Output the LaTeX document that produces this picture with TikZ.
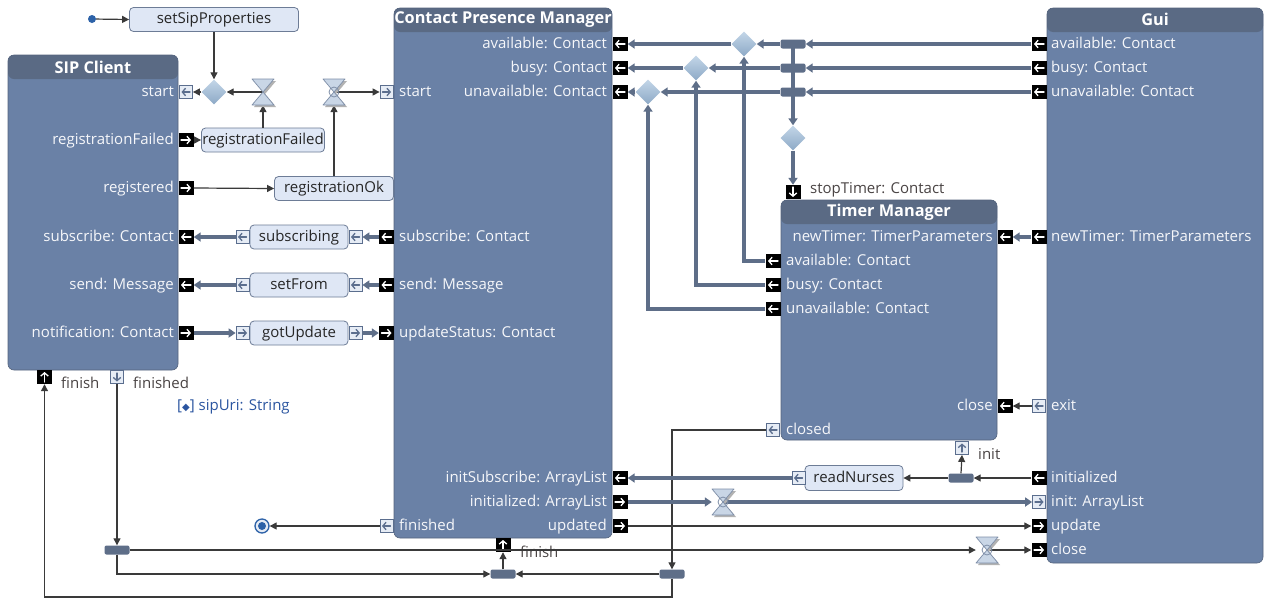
\documentclass[tikz,border=0pt]{standalone}
\usepackage{fontspec}
\setmainfont{Open Sans}
\newfontfamily\symfont{DejaVu Sans}
\usetikzlibrary{arrows.meta,shapes.geometric,calc}

\definecolor{bodyc}{HTML}{6A81A6}
\definecolor{headc}{HTML}{5A6A84}
\definecolor{edgec}{HTML}{55647D}
\definecolor{flowc}{HTML}{5E6E88}
\definecolor{ctlc}{HTML}{3A3A3A}
\definecolor{actfill}{HTML}{DFE7F5}
\definecolor{actedge}{HTML}{6D7C96}
\definecolor{pinfill}{HTML}{E6ECF5}
\definecolor{pinedge}{HTML}{5B6E8E}
\definecolor{diatop}{HTML}{C3D6E8}
\definecolor{diabot}{HTML}{8DA9C6}
\definecolor{glassfill}{HTML}{C9D6E6}
\definecolor{glassedge}{HTML}{7F8FA8}
\definecolor{lblc}{HTML}{4A4444}
\definecolor{attrc}{HTML}{2B55A0}
\definecolor{dotc}{HTML}{2D62A8}

\tikzset{
  comp/.style={draw=edgec, fill=bodyc, rounded corners=6pt, inner sep=0, line width=0.6pt,
    path picture={\fill[headc] (path picture bounding box.north west) rectangle ([yshift=-24pt]path picture bounding box.north east);}},
  ctitle/.style={font=\bfseries\fontsize{16.3}{16.3}\selectfont, text=white, inner sep=0},
  plbl/.style={font=\fontsize{15}{15}\selectfont, text=white!94!bodyc, inner sep=0, text height=11pt, text depth=3pt},
  olbl/.style={font=\fontsize{15}{15}\selectfont, text=lblc, inner sep=0, text height=11pt, text depth=3pt, anchor=west},
  % pin glyph: colour, start offset, end offset
  parr/.style n args={3}{path picture={\draw[line width=1.3pt, draw=#1, line cap=round,
      -{Straight Barb[length=3.2pt,width=7.5pt,line width=1.3pt]}]
      ([shift={(#2)}]path picture bounding box.center) -- ([shift={(#3)}]path picture bounding box.center);}},
  bport/.style={fill=black, minimum width=15pt, minimum height=14pt, inner sep=0},
  hport/.style={fill=pinfill, draw=pinedge, line width=0.8pt, minimum width=13pt, minimum height=13pt, inner sep=0},
  bL/.style={bport, parr={white}{5,0}{-5,0}},
  bR/.style={bport, parr={white}{-5,0}{5,0}},
  bU/.style={bport, parr={white}{0,5}{0,-5}},
  bD/.style={bport, parr={white}{0,-5}{0,5}},
  hL/.style={hport, parr={pinedge}{4,0}{-4.5,0}},
  hR/.style={hport, parr={pinedge}{-4,0}{4.5,0}},
  hU/.style={hport, parr={pinedge}{0,4}{0,-4.5}},
  hD/.style={hport, parr={pinedge}{0,-4}{0,4.5}},
  act/.style={draw=actedge, fill=actfill, rounded corners=4pt, line width=0.8pt, inner sep=0,
    font=\fontsize{15}{15}\selectfont, text=black!85, text height=11pt, text depth=3pt},
  dia/.style={diamond, shape aspect=1, minimum size=25pt, inner sep=0, top color=diatop, bottom color=diabot},
  forkbar/.style={fill=flowc, rounded corners=2pt, minimum width=25pt, minimum height=9pt, inner sep=0},
  glass/.style={minimum width=22pt, minimum height=26pt, inner sep=0},
  glassst/.style={fill=glassfill, draw=glassedge, line width=0.7pt, line join=round},
  ctlflow/.style={draw=ctlc, line width=1.2pt, -{Triangle[width=7pt,length=7pt]}},
  objflow/.style={draw=flowc, line width=3.2pt, -{Triangle[width=9pt,length=7pt]}},
}

\newcommand\drawglass[2]{% #1 node name, #2 y when the time event carries a circle
  \fill[black!30] ($(#1)+(-9,-11)$) -- ($(#1)+(13,-11)$) -- ($(#1)+(2,2)$) -- cycle
                  ($(#1)+(-9,15)$) -- ($(#1)+(13,15)$) -- ($(#1)+(2,2)$) -- cycle;
  \filldraw[glassst] ($(#1)+(-11,-13)$) -- ($(#1)+(11,-13)$) -- (#1.center) -- cycle
                     ($(#1)+(-11,13)$) -- ($(#1)+(11,13)$) -- (#1.center) -- cycle;
  \ifx#2y\draw[glassedge, line width=0.8pt] (#1.center) circle[radius=5pt];\fi
}

\begin{document}
\begin{tikzpicture}[x=1pt, y=-1pt]
\useasboundingbox (0,0) rectangle (1265,598);
\fill[white] (0,0) rectangle (1265,598);

% ---------- components ----------
\node[comp, minimum width=170pt, minimum height=315pt] (sip) at (93,212.5) {};
\node[ctitle] (sipT) at (93,67) {SIP Client};
\node[comp, minimum width=218pt, minimum height=530pt] (cpm) at (503,273) {};
\node[ctitle] (cpmT) at (503,19.5) {Contact Presence Manager};
\node[comp, minimum width=216pt, minimum height=240pt] (tim) at (889,320) {};
\node[ctitle] (timT) at (889,212) {Timer Manager};
\node[comp, minimum width=216pt, minimum height=555pt] (gui) at (1155,285.5) {};
\node[ctitle] (guiT) at (1155,19.5) {Gui};

% ---------- SIP Client ports ----------
\node[hL] (ps_start) at (186,92) {};
\node[bR] (ps_rf) at (186,140) {};
\node[bR] (ps_reg) at (186,188) {};
\node[bL] (ps_sub) at (186,237) {};
\node[bL] (ps_send) at (186,285) {};
\node[bR] (ps_not) at (186,333) {};
\node[bU] (ps_finish) at (44.5,377) {};
\node[hD] (ps_finished) at (117,377) {};
\node[plbl, anchor=east] (ls1) at (174,92) {start};
\node[plbl, anchor=east] (ls2) at (174,140) {registrationFailed};
\node[plbl, anchor=east] (ls3) at (174,188) {registered};
\node[plbl, anchor=east] (ls4) at (174,237) {subscribe: Contact};
\node[plbl, anchor=east] (ls5) at (174,285) {send: Message};
\node[plbl, anchor=east] (ls6) at (174,333) {notification: Contact};
\node[olbl] (ls7) at (61,384) {finish};
\node[olbl] (ls8) at (133,384) {finished};
\node[olbl, text=attrc] (attr) at (177,406) {[{\symfont\fontsize{10}{10}\selectfont ◆}] sipUri: String};

% ---------- Contact Presence Manager ports ----------
\node[hR] (pc_start) at (386.5,92) {};
\node[bL] (pc_sub) at (386.5,237) {};
\node[bL] (pc_send) at (386.5,285) {};
\node[bR] (pc_upd) at (386.5,333) {};
\node[hL] (pc_fin) at (386.5,526) {};
\node[bL] (pc_av) at (620,44) {};
\node[bL] (pc_busy) at (620,68) {};
\node[bL] (pc_unav) at (620,92) {};
\node[bL] (pc_isub) at (620,478) {};
\node[bR] (pc_init) at (620,502) {};
\node[bR] (pc_updated) at (620,526) {};
\node[bU] (pc_finish) at (503,545) {};
\node[plbl, anchor=west] (lc1) at (399,92) {start};
\node[plbl, anchor=west] (lc2) at (399,237) {subscribe: Contact};
\node[plbl, anchor=west] (lc3) at (399,285) {send: Message};
\node[plbl, anchor=west] (lc4) at (399,333) {updateStatus: Contact};
\node[plbl, anchor=west] (lc5) at (399,526) {finished};
\node[plbl, anchor=east] (lc6) at (607,44) {available: Contact};
\node[plbl, anchor=east] (lc7) at (607,68) {busy: Contact};
\node[plbl, anchor=east] (lc8) at (607,92) {unavailable: Contact};
\node[plbl, anchor=east] (lc9) at (607,478) {initSubscribe: ArrayList};
\node[plbl, anchor=east] (lc10) at (607,502) {initialized: ArrayList};
\node[plbl, anchor=east] (lc11) at (607,526) {updated};
\node[olbl] (lc12) at (520,553) {finish};

% ---------- Timer Manager ports ----------
\node[bD] (pt_stop) at (793,192) {};
\node[bL] (pt_av) at (773,261) {};
\node[bL] (pt_busy) at (773,285) {};
\node[bL] (pt_unav) at (773,309) {};
\node[hL] (pt_closed) at (773,430) {};
\node[bL] (pt_new) at (1005,237) {};
\node[bL] (pt_close) at (1005,406) {};
\node[hU] (pt_init) at (962,448) {};
\node[olbl] (lt0) at (810,189) {stopTimer: Contact};
\node[plbl, anchor=west] (lt1) at (786,261) {available: Contact};
\node[plbl, anchor=west] (lt2) at (786,285) {busy: Contact};
\node[plbl, anchor=west] (lt3) at (786,309) {unavailable: Contact};
\node[plbl, anchor=west] (lt4) at (786,430) {closed};
\node[plbl, anchor=east] (lt5) at (993,237) {newTimer: TimerParameters};
\node[plbl, anchor=east] (lt6) at (993,406) {close};
\node[olbl] (lt7) at (978,455) {init};

% ---------- Gui ports ----------
\node[bL] (pg_av) at (1039,44) {};
\node[bL] (pg_busy) at (1039,68) {};
\node[bL] (pg_unav) at (1039,92) {};
\node[bL] (pg_new) at (1039,237) {};
\node[hL] (pg_exit) at (1039,406) {};
\node[bL] (pg_initd) at (1039,478) {};
\node[hR] (pg_init) at (1039,502) {};
\node[bR] (pg_upd) at (1039,526) {};
\node[bR] (pg_close) at (1039,550) {};
\node[plbl, anchor=west] (lg1) at (1051,44) {available: Contact};
\node[plbl, anchor=west] (lg2) at (1051,68) {busy: Contact};
\node[plbl, anchor=west] (lg3) at (1051,92) {unavailable: Contact};
\node[plbl, anchor=west] (lg4) at (1051,237) {newTimer: TimerParameters};
\node[plbl, anchor=west] (lg5) at (1051,406) {exit};
\node[plbl, anchor=west] (lg6) at (1051,478) {initialized};
\node[plbl, anchor=west] (lg7) at (1051,502) {init: ArrayList};
\node[plbl, anchor=west] (lg8) at (1051,526) {update};
\node[plbl, anchor=west] (lg9) at (1051,550) {close};

% ---------- actions and their pins ----------
\node[act, minimum width=169pt, minimum height=24pt] (setsip) at (214,19.5) {setSipProperties};
\node[act, minimum width=123pt, minimum height=24pt] (regf) at (263,140) {registrationFailed};
\node[act, minimum width=119pt, minimum height=24pt] (regok) at (334,188.5) {registrationOk};
\node[act, minimum width=98pt, minimum height=24pt] (subs) at (299,237) {subscribing};
\node[act, minimum width=98pt, minimum height=24pt] (setfrom) at (299,285) {setFrom};
\node[act, minimum width=98pt, minimum height=24pt] (gotupd) at (299,333) {gotUpdate};
\node[act, minimum width=98pt, minimum height=25pt] (readn) at (854,478) {readNurses};
\node[hL] (subs_l) at (242.5,237) {};
\node[hL] (subs_r) at (355.5,237) {};
\node[hL] (setf_l) at (242.5,285) {};
\node[hL] (setf_r) at (355.5,285) {};
\node[hR] (gotu_l) at (242.5,333) {};
\node[hR] (gotu_r) at (355.5,333) {};
\node[hL] (readn_l) at (798.5,478) {};

% ---------- control nodes ----------
\node[circle, fill=dotc, minimum size=8pt, inner sep=0] (init) at (92,19) {};
\node[circle, draw=dotc, fill=pinfill, line width=1.3pt, minimum size=14pt, inner sep=0] (final) at (262,526) {};
\fill[dotc] (final.center) circle[radius=4pt];
\node[dia] (d1) at (214,92) {};
\node[dia] (dav) at (744,44) {};
\node[dia] (dbusy) at (696,68) {};
\node[dia] (dunav) at (648,92) {};
\node[dia] (dstop) at (793,138) {};
\node[glass] (h1) at (263,92) {};
\node[glass] (h2) at (334,92) {};
\node[glass] (h3) at (723,502) {};
\node[glass] (h4) at (987,550) {};
\node[forkbar] (bav) at (793,44) {};
\node[forkbar] (bbusy) at (793,68) {};
\node[forkbar] (bunav) at (793,92) {};
\node[forkbar] (binit) at (961,478) {};
\node[forkbar] (bleft) at (117,550) {};
\node[forkbar] (bmid) at (503,574) {};
\node[forkbar] (bright) at (672,574) {};
\coordinate (loopA) at (672,597);
\coordinate (loopB) at (44.5,597);

% ---------- control flows ----------
\draw[ctlflow] (init) -- (setsip.west);
\draw[ctlflow] (setsip.south -| d1) -- (d1.north);
\draw[ctlflow] (d1.west) -- (ps_start.east);
\draw[ctlflow] (h1.center) -- (d1.east);
\draw[ctlflow] (regf.north) -- (h1.south);
\draw[ctlflow] (ps_rf.east) -- (regf.west);
\draw[ctlflow] (ps_reg.east) -- (regok.west);
\draw[ctlflow] (regok.north) -- (h2.south);
\draw[ctlflow] (h2.center) -- (pc_start.west);
\draw[ctlflow] (pc_fin.west) -- (final.east);
\draw[ctlflow] (ps_finished.south) -- (bleft.north);
\draw[ctlflow] (bleft.east) -- (h4.west);
\draw[ctlflow] (h4.center) -- (pg_close.west);
\draw[ctlflow] (bleft.south) |- (bmid.west);
\draw[ctlflow] (bright.west) -- (bmid.east);
\draw[ctlflow] (bmid.north) -- (pc_finish.south);
\draw[ctlflow] (pt_closed.west) -| (bright.north);
\draw[ctlflow] (bright.south) -- (loopA) -- (loopB) -- (ps_finish.south);
\draw[ctlflow] (pc_updated.east) -- (pg_upd.west);
\draw[ctlflow] (pg_initd.west) -- (binit.east);
\draw[ctlflow] (binit.west) -- (readn.east);
\draw[ctlflow] (binit.north) -- (pt_init.south);
\draw[ctlflow] (pg_exit.west) -- (pt_close.east);

% ---------- object flows ----------
\draw[objflow] (pg_av.west) -- (bav.east);
\draw[objflow] (bav.west) -- (dav.east);
\draw[objflow] (dav.west) -- (pc_av.east);
\draw[objflow] (pg_busy.west) -- (bbusy.east);
\draw[objflow] (bbusy.west) -- (dbusy.east);
\draw[objflow] (dbusy.west) -- (pc_busy.east);
\draw[objflow] (pg_unav.west) -- (bunav.east);
\draw[objflow] (bunav.west) -- (dunav.east);
\draw[objflow] (dunav.west) -- (pc_unav.east);
\draw[objflow] (bav.center) -- (dstop.north);
\draw[objflow] (dstop.south) -- (pt_stop.north);
\draw[objflow] (pt_av.west) -| (dav.south);
\draw[objflow] (pt_busy.west) -| (dbusy.south);
\draw[objflow] (pt_unav.west) -| (dunav.south);
\draw[objflow] (pg_new.west) -- (pt_new.east);
\draw[objflow] (pc_sub.west) -- (subs_r.east);
\draw[objflow] (subs_l.west) -- (ps_sub.east);
\draw[objflow] (pc_send.west) -- (setf_r.east);
\draw[objflow] (setf_l.west) -- (ps_send.east);
\draw[objflow] (ps_not.east) -- (gotu_l.west);
\draw[objflow] (gotu_r.east) -- (pc_upd.west);
\draw[objflow] (readn_l.west) -- (pc_isub.east);
\draw[objflow] (pc_init.east) -- (h3.west);
\draw[objflow] (h3.center) -- (pg_init.west);

% ---------- time events ----------
\drawglass{h1}{n}
\drawglass{h2}{y}
\drawglass{h3}{y}
\drawglass{h4}{y}
\end{tikzpicture}
\end{document}
